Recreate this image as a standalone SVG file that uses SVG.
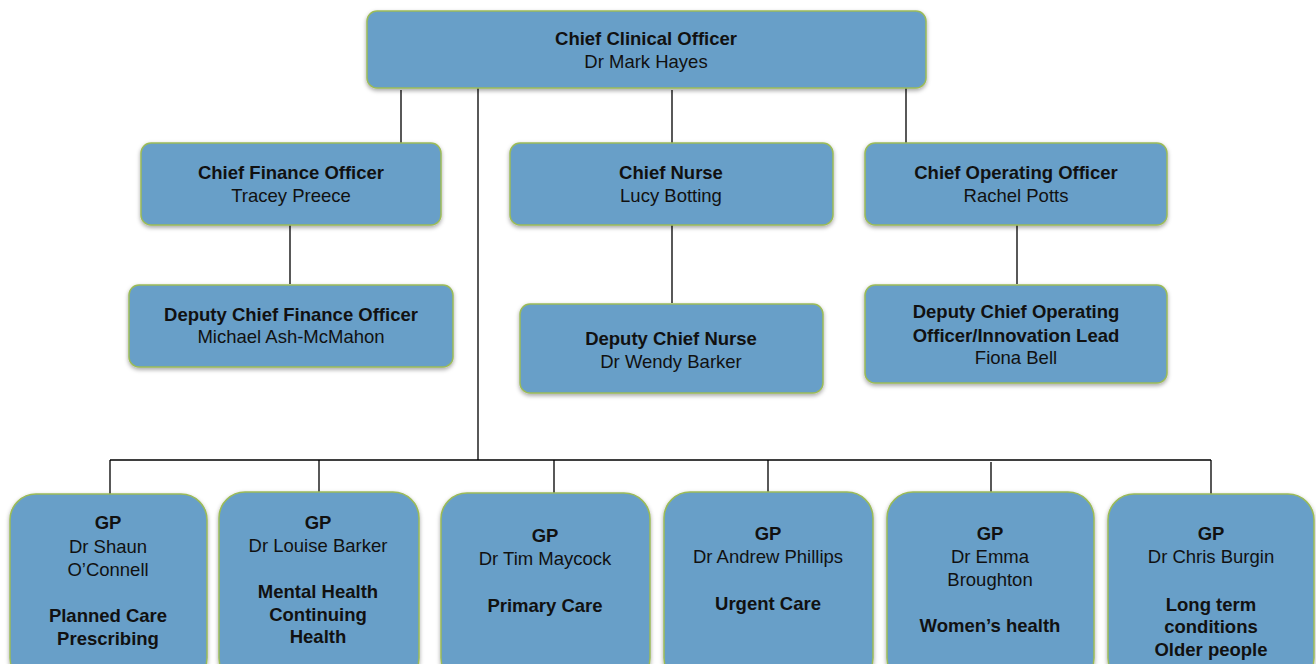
<svg xmlns="http://www.w3.org/2000/svg" width="1316" height="664" viewBox="0 0 1316 664">
<style>
.box{fill:#689fc8;stroke:#9bbb59;stroke-width:1.5;filter:url(#sh)}
.t{font-family:"Liberation Sans",Arial,sans-serif;font-size:18.5px;fill:#111;text-anchor:middle}
.b{font-weight:bold}
.ln{stroke:#000;stroke-width:1.3;fill:none}
</style>
<defs>
<filter id="sh" x="-10%" y="-10%" width="120%" height="130%">
<feDropShadow dx="0" dy="2" stdDeviation="2" flood-color="#000" flood-opacity="0.35"/>
</filter>
</defs>
<rect width="1316" height="664" fill="#fff"/>
<g id="connectors">
<path class="ln" d="M401 90V143M672 90V143M906 88V143M478 88V460M290 225V284M672 225V303M1017 225V284M110 460H1211M110 460V494M319 460V492M554 460V497M768 460V492M991 462V497M1211 460V494"/>
</g>
<g id="cco"><rect class="box" x="367" y="11" width="559" height="77" rx="10"/>
<text class="t b" x="646" y="45">Chief Clinical Officer</text><text class="t" x="646" y="68">Dr Mark Hayes</text></g>
<g id="cfo"><rect class="box" x="141" y="143" width="300" height="82" rx="10"/>
<text class="t b" x="291" y="179">Chief Finance Officer</text><text class="t" x="291" y="202">Tracey Preece</text></g>
<g id="cn"><rect class="box" x="510" y="143" width="323" height="82" rx="10"/>
<text class="t b" x="671" y="179">Chief Nurse</text><text class="t" x="671" y="202">Lucy Botting</text></g>
<g id="coo"><rect class="box" x="865" y="143" width="302" height="82" rx="10"/>
<text class="t b" x="1016" y="179">Chief Operating Officer</text><text class="t" x="1016" y="202">Rachel Potts</text></g>
<g id="dcfo"><rect class="box" x="129" y="285" width="324" height="82" rx="10"/>
<text class="t b" x="291" y="321">Deputy Chief Finance Officer</text><text class="t" x="291" y="343">Michael Ash-McMahon</text></g>
<g id="dcn"><rect class="box" x="520" y="304" width="303" height="89" rx="10"/>
<text class="t b" x="671" y="345">Deputy Chief Nurse</text><text class="t" x="671" y="368">Dr Wendy Barker</text></g>
<g id="dcoo"><rect class="box" x="865" y="285" width="302" height="98" rx="10"/>
<text class="t b" x="1016" y="318">Deputy Chief Operating</text><text class="t b" x="1016" y="342">Officer/Innovation Lead</text><text class="t" x="1016" y="364">Fiona Bell</text></g>
<g id="gp1"><rect class="box" x="10" y="494" width="197" height="190" rx="26"/>
<text class="t b" x="108" y="529">GP</text><text class="t" x="108" y="553">Dr Shaun</text><text class="t" x="108" y="576">O’Connell</text>
<text class="t b" x="108" y="622">Planned Care</text><text class="t b" x="108" y="645">Prescribing</text></g>
<g id="gp2"><rect class="box" x="219" y="492" width="200" height="192" rx="26"/>
<text class="t b" x="318" y="529">GP</text><text class="t" x="318" y="552">Dr Louise Barker</text>
<text class="t b" x="318" y="598">Mental Health</text><text class="t b" x="318" y="621">Continuing</text><text class="t b" x="318" y="643">Health</text></g>
<g id="gp3"><rect class="box" x="441" y="493" width="209" height="191" rx="26"/>
<text class="t b" x="545" y="542">GP</text><text class="t" x="545" y="565">Dr Tim Maycock</text>
<text class="t b" x="545" y="612">Primary Care</text></g>
<g id="gp4"><rect class="box" x="664" y="492" width="209" height="192" rx="26"/>
<text class="t b" x="768" y="540">GP</text><text class="t" x="768" y="563">Dr Andrew Phillips</text>
<text class="t b" x="768" y="610">Urgent Care</text></g>
<g id="gp5"><rect class="box" x="887" y="492" width="207" height="192" rx="26"/>
<text class="t b" x="990" y="540">GP</text><text class="t" x="990" y="563">Dr Emma</text><text class="t" x="990" y="586">Broughton</text>
<text class="t b" x="990" y="632">Women’s health</text></g>
<g id="gp6"><rect class="box" x="1108" y="494" width="206" height="190" rx="26"/>
<text class="t b" x="1211" y="540">GP</text><text class="t" x="1211" y="563">Dr Chris Burgin</text>
<text class="t b" x="1211" y="611">Long term</text><text class="t b" x="1211" y="633">conditions</text><text class="t b" x="1211" y="656">Older people</text></g>
</svg>
